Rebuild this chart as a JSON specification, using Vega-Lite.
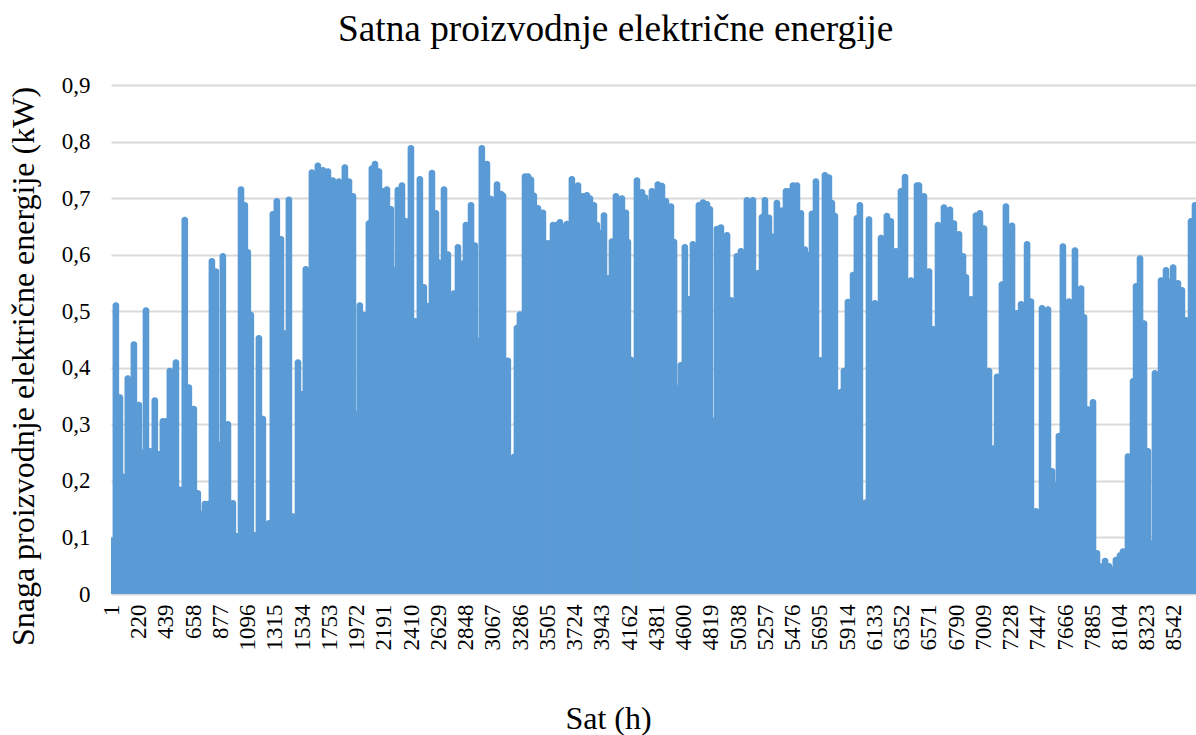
{"$schema":"https://vega.github.io/schema/vega-lite/v6.json","width":1085,"height":509,"autosize":{"type":"none"},"padding":{"left":111,"top":85,"right":0,"bottom":141},"background":"white","title":{"text":"Satna proizvodnje električne energije","font":"Liberation Serif","fontSize":37.3,"fontWeight":"normal","color":"#000000","anchor":"start","frame":"group","dx":227,"offset":25},"config":{"view":{"stroke":null}},"data":{"values":[{"h":8,"v":0.1},{"h":40,"v":0.516},{"h":73,"v":0.353},{"h":97,"v":0.213},{"h":136,"v":0.387},{"h":185,"v":0.447},{"h":225,"v":0.34},{"h":249,"v":0.256},{"h":282,"v":0.507},{"h":314,"v":0.258},{"h":353,"v":0.348},{"h":386,"v":0.253},{"h":418,"v":0.311},{"h":446,"v":0.311},{"h":474,"v":0.4},{"h":523,"v":0.415},{"h":555,"v":0.19},{"h":594,"v":0.667},{"h":627,"v":0.371},{"h":667,"v":0.333},{"h":699,"v":0.184},{"h":724,"v":0.147},{"h":756,"v":0.165},{"h":784,"v":0.165},{"h":812,"v":0.594},{"h":844,"v":0.576},{"h":868,"v":0.269},{"h":900,"v":0.603},{"h":941,"v":0.306},{"h":981,"v":0.166},{"h":1013,"v":0.108},{"h":1046,"v":0.721},{"h":1077,"v":0.693},{"h":1101,"v":0.61},{"h":1125,"v":0.499},{"h":1150,"v":0.11},{"h":1190,"v":0.458},{"h":1222,"v":0.315},{"h":1255,"v":0.1},{"h":1271,"v":0.131},{"h":1302,"v":0.677},{"h":1334,"v":0.7},{"h":1367,"v":0.633},{"h":1391,"v":0.467},{"h":1431,"v":0.703},{"h":1463,"v":0.143},{"h":1504,"v":0.415},{"h":1535,"v":0.359},{"h":1567,"v":0.58},{"h":1616,"v":0.751},{"h":1664,"v":0.763},{"h":1705,"v":0.755},{"h":1745,"v":0.753},{"h":1784,"v":0.737},{"h":1833,"v":0.735},{"h":1881,"v":0.76},{"h":1914,"v":0.735},{"h":1946,"v":0.709},{"h":1970,"v":0.324},{"h":2001,"v":0.516},{"h":2034,"v":0.499},{"h":2074,"v":0.661},{"h":2098,"v":0.758},{"h":2123,"v":0.766},{"h":2155,"v":0.753},{"h":2187,"v":0.718},{"h":2219,"v":0.721},{"h":2251,"v":0.686},{"h":2275,"v":0.578},{"h":2307,"v":0.72},{"h":2340,"v":0.728},{"h":2372,"v":0.665},{"h":2412,"v":0.794},{"h":2444,"v":0.488},{"h":2484,"v":0.739},{"h":2516,"v":0.548},{"h":2540,"v":0.515},{"h":2581,"v":0.75},{"h":2613,"v":0.679},{"h":2637,"v":0.592},{"h":2678,"v":0.721},{"h":2709,"v":0.606},{"h":2733,"v":0.511},{"h":2757,"v":0.537},{"h":2790,"v":0.619},{"h":2830,"v":0.59},{"h":2854,"v":0.658},{"h":2895,"v":0.693},{"h":2926,"v":0.622},{"h":2950,"v":0.453},{"h":2982,"v":0.794},{"h":3023,"v":0.766},{"h":3055,"v":0.704},{"h":3104,"v":0.73},{"h":3136,"v":0.713},{"h":3152,"v":0.71},{"h":3191,"v":0.418},{"h":3240,"v":0.248},{"h":3264,"v":0.476},{"h":3288,"v":0.5},{"h":3329,"v":0.744},{"h":3353,"v":0.744},{"h":3377,"v":0.738},{"h":3400,"v":0.71},{"h":3433,"v":0.688},{"h":3473,"v":0.68},{"h":3513,"v":0.626},{"h":3554,"v":0.658},{"h":3582,"v":0.658},{"h":3610,"v":0.663},{"h":3642,"v":0.655},{"h":3666,"v":0.66},{"h":3706,"v":0.739},{"h":3755,"v":0.728},{"h":3795,"v":0.709},{"h":3827,"v":0.711},{"h":3851,"v":0.705},{"h":3883,"v":0.693},{"h":3907,"v":0.658},{"h":3931,"v":0.644},{"h":3964,"v":0.675},{"h":3996,"v":0.564},{"h":4028,"v":0.629},{"h":4060,"v":0.709},{"h":4108,"v":0.705},{"h":4140,"v":0.68},{"h":4156,"v":0.628},{"h":4180,"v":0.42},{"h":4229,"v":0.737},{"h":4269,"v":0.716},{"h":4294,"v":0.707},{"h":4318,"v":0.697},{"h":4349,"v":0.718},{"h":4397,"v":0.73},{"h":4430,"v":0.727},{"h":4462,"v":0.7},{"h":4502,"v":0.691},{"h":4527,"v":0.628},{"h":4551,"v":0.37},{"h":4582,"v":0.41},{"h":4614,"v":0.619},{"h":4647,"v":0.527},{"h":4679,"v":0.624},{"h":4727,"v":0.693},{"h":4760,"v":0.698},{"h":4792,"v":0.695},{"h":4815,"v":0.686},{"h":4844,"v":0.312},{"h":4872,"v":0.651},{"h":4904,"v":0.654},{"h":4953,"v":0.64},{"h":4985,"v":0.525},{"h":5001,"v":0.426},{"h":5032,"v":0.603},{"h":5065,"v":0.612},{"h":5113,"v":0.702},{"h":5161,"v":0.702},{"h":5202,"v":0.573},{"h":5234,"v":0.672},{"h":5258,"v":0.702},{"h":5290,"v":0.671},{"h":5314,"v":0.638},{"h":5354,"v":0.697},{"h":5395,"v":0.684},{"h":5427,"v":0.718},{"h":5455,"v":0.718},{"h":5483,"v":0.728},{"h":5515,"v":0.728},{"h":5547,"v":0.679},{"h":5579,"v":0.615},{"h":5604,"v":0.605},{"h":5636,"v":0.678},{"h":5668,"v":0.735},{"h":5700,"v":0.419},{"h":5740,"v":0.746},{"h":5772,"v":0.742},{"h":5796,"v":0.697},{"h":5820,"v":0.674},{"h":5845,"v":0.222},{"h":5869,"v":0.363},{"h":5893,"v":0.4},{"h":5925,"v":0.522},{"h":5966,"v":0.57},{"h":5997,"v":0.67},{"h":6021,"v":0.693},{"h":6062,"v":0.167},{"h":6094,"v":0.668},{"h":6142,"v":0.52},{"h":6191,"v":0.635},{"h":6238,"v":0.674},{"h":6270,"v":0.665},{"h":6311,"v":0.612},{"h":6351,"v":0.718},{"h":6384,"v":0.743},{"h":6432,"v":0.56},{"h":6480,"v":0.728},{"h":6496,"v":0.728},{"h":6536,"v":0.709},{"h":6577,"v":0.576},{"h":6609,"v":0.474},{"h":6649,"v":0.658},{"h":6697,"v":0.689},{"h":6745,"v":0.685},{"h":6777,"v":0.661},{"h":6818,"v":0.642},{"h":6850,"v":0.603},{"h":6874,"v":0.566},{"h":6914,"v":0.527},{"h":6954,"v":0.675},{"h":6986,"v":0.679},{"h":7019,"v":0.652},{"h":7059,"v":0.4},{"h":7091,"v":0.263},{"h":7124,"v":0.39},{"h":7163,"v":0.553},{"h":7195,"v":0.691},{"h":7244,"v":0.657},{"h":7284,"v":0.502},{"h":7317,"v":0.518},{"h":7365,"v":0.624},{"h":7396,"v":0.523},{"h":7437,"v":0.152},{"h":7485,"v":0.511},{"h":7533,"v":0.509},{"h":7566,"v":0.223},{"h":7590,"v":0.198},{"h":7621,"v":0.285},{"h":7653,"v":0.62},{"h":7702,"v":0.523},{"h":7750,"v":0.613},{"h":7799,"v":0.546},{"h":7823,"v":0.495},{"h":7854,"v":0.332},{"h":7895,"v":0.345},{"h":7927,"v":0.078},{"h":7951,"v":0.055},{"h":7992,"v":0.064},{"h":8024,"v":0.055},{"h":8056,"v":0.048},{"h":8079,"v":0.066},{"h":8112,"v":0.074},{"h":8136,"v":0.081},{"h":8176,"v":0.249},{"h":8217,"v":0.382},{"h":8241,"v":0.55},{"h":8273,"v":0.599},{"h":8305,"v":0.484},{"h":8337,"v":0.258},{"h":8361,"v":0.095},{"h":8393,"v":0.396},{"h":8442,"v":0.56},{"h":8482,"v":0.578},{"h":8514,"v":0.558},{"h":8539,"v":0.583},{"h":8578,"v":0.555},{"h":8610,"v":0.543},{"h":8643,"v":0.49},{"h":8683,"v":0.665},{"h":8715,"v":0.693}]},"mark":{"type":"bar","size":6.6,"color":"#5B9BD5","cornerRadiusEnd":3,"clip":true},"encoding":{"x":{"field":"h","type":"quantitative","scale":{"domain":[1,8723],"nice":false,"zero":false,"padding":0},"axis":{"title":"Sat (h)","titleFont":"Liberation Serif","titleFontSize":32,"titleFontWeight":"normal","titleColor":"#000000","titleX":497,"titleY":134,"titleBaseline":"alphabetic","titleAnchor":"middle","titleAlign":"center","grid":false,"ticks":false,"domain":false,"labelFont":"Liberation Serif","labelFontSize":23,"labelColor":"#000000","labelAngle":-90,"labelBaseline":"middle","labelPadding":10,"labelOffset":0.5,"labelOverlap":false,"labelFlush":false,"values":[1,220,439,658,877,1096,1315,1534,1753,1972,2191,2410,2629,2848,3067,3286,3505,3724,3943,4162,4381,4600,4819,5038,5257,5476,5695,5914,6133,6352,6571,6790,7009,7228,7447,7666,7885,8104,8323,8542],"format":"d"}},"y":{"field":"v","type":"quantitative","stack":null,"scale":{"domain":[0,0.9],"nice":false},"axis":{"title":"Snaga proizvodnje električne energije  (kW)","titleFont":"Liberation Serif","titleFontSize":32,"titleFontWeight":"normal","titleColor":"#000000","titleX":-78,"titleY":281,"titleBaseline":"alphabetic","titleAnchor":"middle","titleAlign":"center","values":[0,0.1,0.2,0.3,0.4,0.5,0.6,0.7,0.8,0.9],"labelExpr":"replace(format(datum.value,'.1~f'),'.',',')","grid":true,"gridColor":"#D9D9D9","gridWidth":2,"ticks":false,"domain":false,"labelFont":"Liberation Serif","labelFontSize":23,"labelColor":"#000000","labelPadding":21}}}}
